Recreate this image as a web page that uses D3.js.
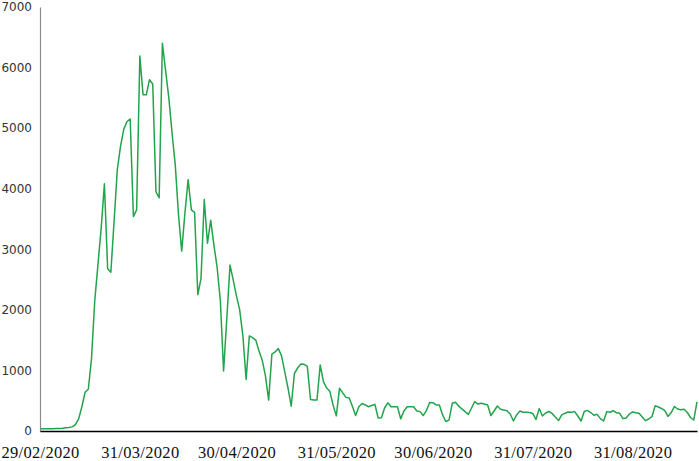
<!DOCTYPE html>
<html>
<head>
<meta charset="utf-8">
<script src="https://cdn.jsdelivr.net/npm/d3@7/dist/d3.min.js"></script>
<style>
  html, body { margin: 0; padding: 0; background: #fff; }
  svg { display: block; }
</style>
</head>
<body>
<svg id="chart" width="699" height="461"></svg>
<script>
// ---- data ----
const startDate = "2020-02-29";
const dailyValues = [
  38, 38, 38, 38, 38, 40, 40, 45, 52, 58,
  68, 105, 200, 400, 640, 690, 1200, 2150, 2750, 3350,
  4080, 2680, 2620, 3460, 4310, 4700, 4980, 5110, 5150, 3540,
  3650, 6190, 5550, 5550, 5800, 5730, 3950, 3850, 6400, 5950,
  5500, 4920, 4390, 3570, 2970, 3600, 4150, 3650, 3610, 2250,
  2520, 3820, 3100, 3480, 3070, 2700, 2150, 990, 1850, 2740,
  2490, 2230, 2000, 1570, 850, 1570, 1540, 1500, 1320, 1170,
  910, 510, 1270, 1305, 1360, 1240, 975, 710, 410, 950,
  1040, 1105, 1100, 1065, 520, 510, 510, 1090, 815, 710,
  655, 430, 250, 705, 630, 555, 545, 410, 255, 400,
  455, 430, 400, 420, 440, 215, 220, 380, 465, 400,
  400, 400, 200, 330, 400, 400, 400, 330, 320, 255,
  340, 470, 467, 430, 430, 265, 157, 180, 457, 475,
  410, 365, 320, 272, 380, 487, 445, 457, 445, 430,
  255, 330, 413, 358, 345, 335, 280, 165, 265, 330,
  310, 310, 305, 290, 190, 370, 248, 297, 322, 290,
  230, 173, 265, 292, 314, 310, 320, 248, 165, 322,
  340, 305, 260, 275, 205, 165, 320, 310, 335, 300,
  292, 205, 215, 280, 315, 300, 292, 230, 170, 198,
  236, 418, 396, 372, 335, 240, 305, 405, 363, 352,
  358, 305, 223, 182, 480
];
const xTickDates = ["2020-02-29", "2020-03-31", "2020-04-30", "2020-05-31", "2020-06-30", "2020-07-31", "2020-08-31"];
const yTickValues = [0, 1000, 2000, 3000, 4000, 5000, 6000, 7000];

// ---- build ----
const parse = d3.utcParse("%Y-%m-%d");
const start = parse(startDate);
const data = dailyValues.map((v, i) => ({ date: d3.utcDay.offset(start, i), value: v }));

const svg = d3.select("#chart");
const x = d3.scaleUtc()
  .domain([start, data[data.length - 1].date])
  .range([40, 697]);
const y = d3.scaleLinear().domain([0, 7000]).range([431, 7]);

// line
const line = d3.line().x(d => x(d.date)).y(d => y(d.value));
svg.append("path")
  .datum(data)
  .attr("fill", "none")
  .attr("stroke", "#22a44b")
  .attr("stroke-width", 1.5)
  .attr("stroke-linejoin", "round")
  .attr("d", line);

// y axis
const yAxis = svg.append("g")
  .attr("transform", "translate(40,0)")
  .call(d3.axisLeft(y).tickValues(yTickValues).tickSize(0).tickPadding(8).tickFormat(d3.format("d")));
yAxis.select(".domain").attr("stroke", "#8a8a8a").attr("stroke-width", 1.2);
yAxis.selectAll("text")
  .attr("font-family", "'DejaVu Sans', Verdana, sans-serif")
  .attr("font-size", 12)
  .attr("fill", "#333");

// x axis
const xAxis = svg.append("g")
  .attr("transform", "translate(0,431)")
  .call(d3.axisBottom(x).tickValues(xTickDates.map(parse)).tickSize(0).tickPadding(15)
    .tickFormat(d3.utcFormat("%d/%m/%Y")));
xAxis.select(".domain").attr("stroke", "#000").attr("stroke-width", 1.5);
xAxis.selectAll("text")
  .attr("font-family", "'Liberation Serif', 'Times New Roman', serif")
  .attr("font-size", 16.5)
  .attr("letter-spacing", "0.3px")
  .attr("fill", "#111");
</script>
</body>
</html>
